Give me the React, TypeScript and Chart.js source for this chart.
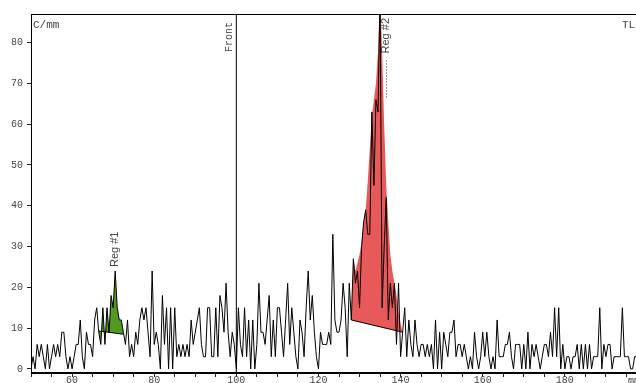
import React, { useEffect, useRef } from 'react';
import { Chart, registerables } from 'chart.js';

Chart.register(...registerables);

// Radio-TLC scan: counts per mm sampled every 0.5 mm from 50 mm
const X_START = 50;
const X_STEP = 0.5;
const counts = [
  0, 3, 0, 6, 3, 6, 3, 0, 6, 0,
  3, 6, 3, 6, 3, 9, 9, 3, 0, 3,
  0, 3, 6, 6, 12, 3, 0, 9, 6, 6,
  3, 12, 15, 9, 6, 15, 6, 15, 9, 18,
  15, 24, 15, 12, 12, 9, 6, 12, 3, 6,
  3, 9, 6, 12, 15, 12, 15, 9, 3, 24,
  6, 9, 6, 0, 18, 6, 15, 0, 15, 0,
  15, 3, 6, 3, 6, 3, 6, 3, 12, 6,
  9, 12, 15, 6, 3, 3, 15, 15, 3, 3,
  15, 3, 18, 15, 9, 21, 9, 3, 9, 6,
  0, 15, 6, 3, 15, 3, 12, 0, 12, 0,
  6, 21, 9, 9, 6, 12, 18, 3, 12, 3,
  15, 15, 9, 3, 12, 21, 6, 15, 9, 3,
  0, 12, 9, 3, 15, 24, 12, 18, 9, 3,
  0, 9, 6, 6, 6, 9, 6, 33, 12, 9,
  9, 12, 21, 15, 3, 21, 12, 27, 21, 24,
  15, 30, 36, 39, 33, 33, 63, 45, 66, 63,
  92, 15, 30, 42, 12, 21, 15, 21, 6, 21,
  3, 9, 15, 3, 12, 6, 3, 12, 6, 3,
  6, 6, 3, 6, 3, 6, 0, 12, 0, 9,
  0, 9, 6, 3, 9, 9, 12, 3, 6, 6,
  3, 6, 3, 0, 3, 0, 9, 3, 0, 3,
  9, 3, 9, 3, 0, 3, 0, 12, 3, 3,
  3, 6, 6, 9, 3, 0, 6, 6, 6, 0,
  6, 0, 9, 0, 6, 3, 6, 3, 0, 3,
  6, 6, 3, 9, 3, 15, 3, 15, 0, 6,
  0, 3, 3, 0, 3, 3, 6, 0, 6, 0,
  6, 0, 6, 0, 3, 3, 3, 15, 0, 6,
  3, 6, 6, 0, 3, 3, 3, 3, 15, 3,
  3, 3, 0, 0, 3, 3, 3, 0, 3, 3,
  0,
];

// Region #1 (integrated between curve and sloped baseline)
const reg1Range = [66.5, 72.5];
const reg1Base = [9.3, 8.5];
// Region #2 integration envelope, 0.5 mm steps from 128 mm
const reg2Start = 128;
const reg2Envelope = [
  12, 27, 24, 26, 28, 31, 36, 39, 46, 54, 62, 66, 70, 78, 92,
  78, 60, 45, 36, 28, 24, 21, 18, 14, 11, 9,
];
const reg2Base = [12, 9];

const regNames = ['Reg #1', 'Reg #2'];
const regLabelX = [70.5, 136.5];
const regPeak = [24, 92];

const frontX = 100;
const xTickLabels = [60, 80, 100, 120, 140, 160, 180];
const yTickValues = [0, 10, 20, 30, 40, 50, 60, 70, 80];

const X_MIN = 50;
const X_MAX = 200;
const Y_MIN = -1;
const Y_MAX = 87;

const GREEN = '#4f9a1f';
const RED = '#e85a5a';
const TEXT = '#444';
const MONO = '"Liberation Mono", monospace';
const SANS = '"Liberation Sans", Arial, sans-serif';

const scanPoints = counts.map((v, i) => ({ x: X_START + i * X_STEP, y: v }));
const reg1Points = scanPoints.filter((p) => p.x >= reg1Range[0] && p.x <= reg1Range[1]);
const reg2Points = reg2Envelope.map((v, i) => ({ x: reg2Start + i * X_STEP, y: v }));
const reg2End = reg2Start + (reg2Envelope.length - 1) * X_STEP;

const overlay = {
  id: 'tlcOverlay',
  afterDatasetsDraw(chart: any) {
    const { ctx, chartArea: a, scales } = chart;
    const xs = scales.x;
    const ys = scales.y;
    ctx.save();

    // plot frame
    ctx.strokeStyle = '#000';
    ctx.lineWidth = 1;
    ctx.strokeRect(a.left + 0.5, a.top + 0.5, a.right - a.left - 1, a.bottom - a.top - 1);

    ctx.fillStyle = TEXT;
    ctx.font = `11px ${MONO}`;
    ctx.textBaseline = 'top';
    ctx.textAlign = 'left';
    ctx.fillText('C/mm', a.left + 2, a.top + 6);
    ctx.fillText('TLC', a.right - 25, a.top + 6);
    ctx.font = `10px ${MONO}`;
    ctx.fillText('mm', a.right - 19, a.bottom + 3);

    // front label
    const fx = xs.getPixelForValue(frontX);
    ctx.save();
    ctx.translate(fx - 7, a.top + 8);
    ctx.rotate(-Math.PI / 2);
    ctx.textAlign = 'right';
    ctx.textBaseline = 'middle';
    ctx.font = `10px ${MONO}`;
    ctx.fillText('Front', 0, 0);
    ctx.restore();

    // region labels
    ctx.font = `11px ${SANS}`;
    regNames.forEach((name, i) => {
      const px = Math.round(xs.getPixelForValue(regLabelX[i]));
      const w = ctx.measureText(name).width;
      let bottom = ys.getPixelForValue(regPeak[i]) - 4;
      const clamped = bottom - w < a.top + 4;
      if (clamped) bottom = a.top + 4 + w;
      ctx.save();
      ctx.translate(px, bottom);
      ctx.rotate(-Math.PI / 2);
      ctx.textAlign = 'left';
      ctx.textBaseline = 'middle';
      ctx.fillText(name, 0, 0);
      ctx.restore();
      if (clamped) {
        ctx.save();
        ctx.strokeStyle = '#333';
        ctx.setLineDash([1, 2]);
        ctx.beginPath();
        ctx.moveTo(px + 0.5, bottom + 7);
        ctx.lineTo(px + 0.5, bottom + 44);
        ctx.stroke();
        ctx.restore();
      }
    });

    ctx.restore();
  },
};

export default function App() {
  const canvasRef = useRef<HTMLCanvasElement | null>(null);

  useEffect(() => {
    const canvas = canvasRef.current;
    if (!canvas) return;
    const chart = new Chart(canvas, {
      type: 'line',
      data: {
        datasets: [
          {
            data: scanPoints,
            borderColor: '#000',
            borderWidth: 1,
            fill: false,
            order: 0,
          },
          {
            data: reg1Points,
            borderWidth: 0,
            borderColor: 'rgba(0,0,0,0)',
            backgroundColor: GREEN,
            fill: { target: 2, above: GREEN, below: GREEN },
            order: 2,
          },
          {
            data: [
              { x: reg1Range[0], y: reg1Base[0] },
              { x: reg1Range[1], y: reg1Base[1] },
            ],
            borderColor: '#000',
            borderWidth: 1,
            fill: false,
            order: 1,
          },
          {
            data: reg2Points,
            borderWidth: 0,
            borderColor: 'rgba(0,0,0,0)',
            backgroundColor: RED,
            fill: { target: 4, above: RED, below: RED },
            order: 2,
          },
          {
            data: [
              { x: reg2Start, y: reg2Base[0] },
              { x: reg2End, y: reg2Base[1] },
            ],
            borderColor: '#000',
            borderWidth: 1,
            fill: false,
            order: 1,
          },
          {
            data: [
              { x: frontX, y: Y_MIN },
              { x: frontX, y: Y_MAX },
            ],
            borderColor: '#000',
            borderWidth: 1,
            fill: false,
            order: 3,
          },
        ],
      },
      options: {
        responsive: false,
        maintainAspectRatio: false,
        animation: false,
        devicePixelRatio: 1,
        events: [],
        layout: { padding: { top: 14, right: 33, left: 0, bottom: 0 } },
        elements: {
          point: { radius: 0 },
          line: { tension: 0 },
        },
        plugins: {
          legend: { display: false },
          tooltip: { enabled: false },
        },
        scales: {
          x: {
            type: 'linear',
            min: X_MIN,
            max: X_MAX,
            afterBuildTicks: (scale: any) => {
              const t = [];
              for (let v = X_MIN; v <= X_MAX; v += 5) t.push({ value: v });
              scale.ticks = t;
            },
            afterFit: (scale: any) => {
              scale.height = 10;
            },
            ticks: {
              autoSkip: false,
              maxRotation: 0,
              padding: -3,
              color: TEXT,
              font: { family: MONO, size: 10 },
              callback: (v: any) => (xTickLabels.includes(Number(v)) ? String(v) : ''),
            },
            grid: {
              display: true,
              drawOnChartArea: false,
              drawTicks: true,
              tickLength: 4,
              color: '#222',
            },
            border: { display: true, color: '#000' },
          },
          y: {
            type: 'linear',
            min: Y_MIN,
            max: Y_MAX,
            afterBuildTicks: (scale: any) => {
              scale.ticks = yTickValues.map((v) => ({ value: v }));
            },
            afterFit: (scale: any) => {
              scale.width = 31;
            },
            ticks: {
              padding: 4,
              color: TEXT,
              font: { family: MONO, size: 10 },
            },
            grid: {
              display: true,
              drawOnChartArea: false,
              drawTicks: true,
              tickLength: 4,
              color: '#222',
            },
            border: { display: true, color: '#000' },
          },
        },
      },
      plugins: [overlay],
    } as any);
    return () => chart.destroy();
  }, []);

  return (
    <div
      style={{
        position: 'fixed',
        left: 0,
        top: 0,
        width: 636,
        height: 383,
        overflow: 'hidden',
        background: '#fff',
      }}
    >
      <canvas
        ref={canvasRef}
        width={680}
        height={383}
        style={{ display: 'block', width: 680, height: 383 }}
      />
    </div>
  );
}
